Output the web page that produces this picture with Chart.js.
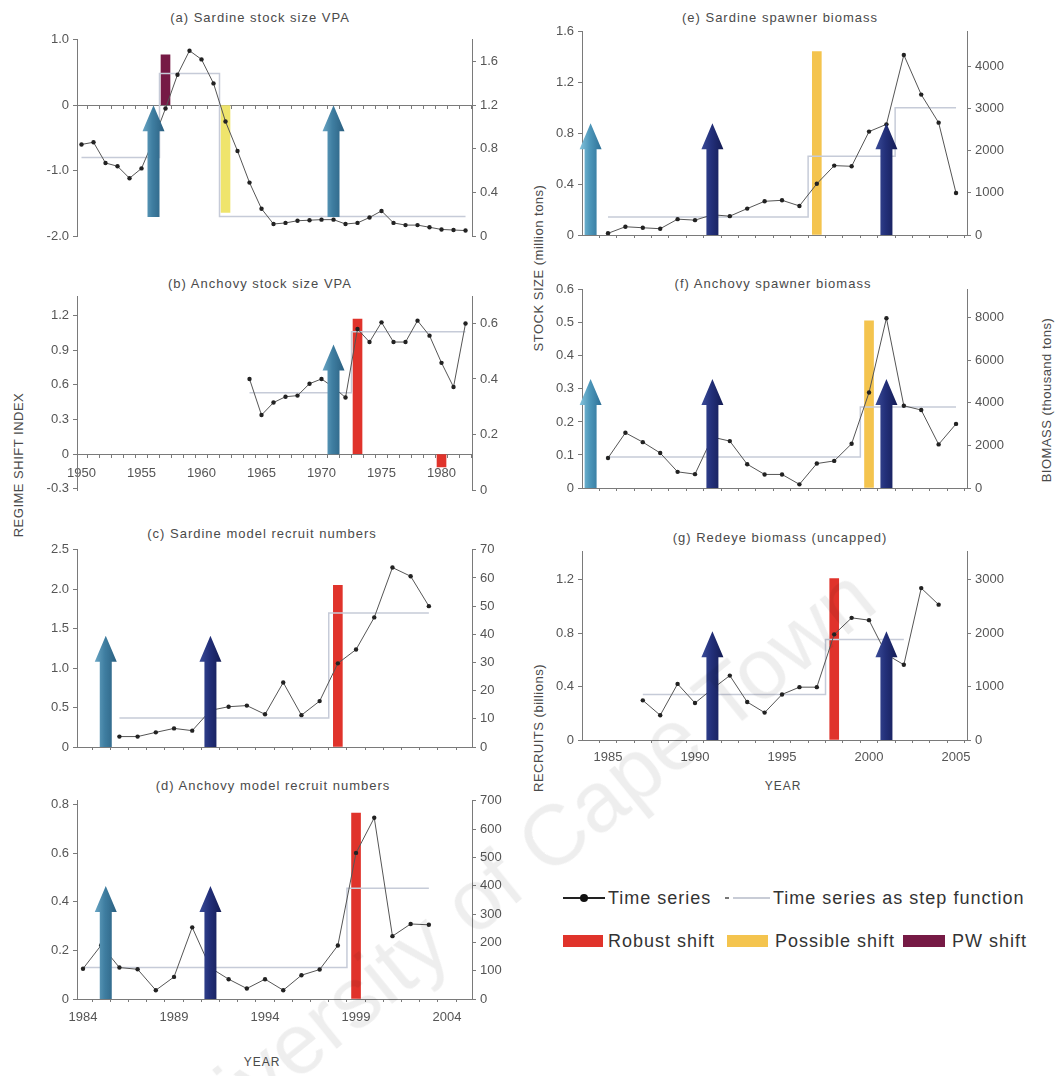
<!DOCTYPE html>
<html>
<head>
<meta charset="utf-8">
<title>Regime shifts in the southern Benguela</title>
<script src="https://cdn.jsdelivr.net/npm/chart.js@4.4.1/dist/chart.umd.min.js"></script>
<style>
html,body{margin:0;padding:0;background:#fff;}
body{position:relative;width:1057px;height:1076px;overflow:hidden;font-family:"Liberation Sans",Arial,Helvetica,sans-serif;}
canvas{position:absolute;}
.ttl{position:absolute;transform:translate(-50%,-50%);font-size:13px;letter-spacing:1px;color:#4a4a4a;white-space:nowrap;}
.vt{position:absolute;transform:translate(-50%,-50%) rotate(-90deg);font-size:13px;letter-spacing:0.5px;color:#4a4a4a;white-space:nowrap;}
.lg{position:absolute;font-size:18px;letter-spacing:1px;color:#333;white-space:nowrap;line-height:20px;}
.sw{position:absolute;}
#wm{position:absolute;right:195px;top:535px;transform-origin:100% 50%;transform:rotate(-39deg);font-size:86px;color:rgba(0,0,0,0.065);white-space:nowrap;pointer-events:none;z-index:10;line-height:100px;}
</style>
</head>
<body>
<div class="ttl" style="left:260px;top:17px">(a) Sardine stock size VPA</div>
<div class="ttl" style="left:260px;top:283px">(b) Anchovy stock size VPA</div>
<div class="ttl" style="left:262px;top:533px">(c) Sardine model recruit numbers</div>
<div class="ttl" style="left:273px;top:785px">(d) Anchovy model recruit numbers</div>
<div class="ttl" style="left:780px;top:17px">(e) Sardine spawner biomass</div>
<div class="ttl" style="left:773px;top:283px">(f) Anchovy spawner biomass</div>
<div class="ttl" style="left:780px;top:537px">(g) Redeye biomass (uncapped)</div>

<div class="vt" style="left:18px;top:465px">REGIME SHIFT INDEX</div>
<div class="vt" style="left:538px;top:268px">STOCK SIZE (million tons)</div>
<div class="vt" style="left:538px;top:728px">RECRUITS (billions)</div>
<div class="vt" style="left:1046px;top:400px">BIOMASS (thousand tons)</div>
<div class="ttl" style="left:262px;top:1062px;font-size:12px">YEAR</div>
<div class="ttl" style="left:783px;top:786px;font-size:12px">YEAR</div>

<!-- legend -->
<div class="sw" style="left:563px;top:897px;width:42px;height:2px;background:#222"></div>
<div class="sw" style="left:580px;top:894px;width:8px;height:8px;border-radius:50%;background:#111"></div>
<div class="lg" style="left:608px;top:888px">Time series</div>
<div class="sw" style="left:725px;top:897px;width:4px;height:2px;background:#777"></div>
<div class="sw" style="left:733px;top:897px;width:37px;height:2px;background:#c8ccd6"></div>
<div class="lg" style="left:773px;top:888px">Time series as step function</div>
<div class="sw" style="left:563px;top:935px;width:40px;height:12px;background:#e0332b"></div>
<div class="lg" style="left:608px;top:931px">Robust shift</div>
<div class="sw" style="left:727px;top:935px;width:41px;height:12px;background:#f4c44e"></div>
<div class="lg" style="left:775px;top:931px">Possible shift</div>
<div class="sw" style="left:903px;top:935px;width:42px;height:12px;background:#761a45"></div>
<div class="lg" style="left:952px;top:931px">PW shift</div>

<div id="wm">University of Cape Town</div>

<script>
// ================= DATA =================
// (a) Sardine stock size VPA  (right axis: stock size; left axis: regime shift index)
const aYears   = [1950,1951,1952,1953,1954,1955,1956,1957,1958,1959,1960,1961,1962,1963,1964,1965,1966,1967,1968,1969,1970,1971,1972,1973,1974,1975,1976,1977,1978,1979,1980,1981,1982];
const aStock   = [0.84,0.86,0.67,0.64,0.53,0.62,0.88,1.17,1.48,1.70,1.62,1.40,1.05,0.78,0.49,0.25,0.11,0.12,0.14,0.145,0.15,0.15,0.11,0.12,0.17,0.23,0.12,0.10,0.10,0.08,0.06,0.055,0.05];
const aStep    = [0.72,0.72,0.72,0.72,0.72,0.72,0.72,1.49,1.49,1.49,1.49,1.49,0.18,0.18,0.18,0.18,0.18,0.18,0.18,0.18,0.18,0.18,0.18,0.18,0.18,0.18,0.18,0.18,0.18,0.18,0.18,0.18,0.18];
const aShiftYears = [1957, 1962];
const aShiftRSI   = [0.77, -1.64];
const aShiftKinds = ['pw', 'possibleLight'];
const aArrowYears = [1956, 1971];
const aArrowKinds = ['steel', 'steel'];
const aArrowRange = [-1.71, 0];
const aLeftTicks  = [-2, -1, 0, 1];
const aLeftLabels = ['-2.0', '-1.0', '0', '1.0'];
const aRightTicks = [0, 0.4, 0.8, 1.2, 1.6];
const aRightLabels= ['0', '0.4', '0.8', '1.2', '1.6'];

// (b) Anchovy stock size VPA
const bYears   = [1964,1965,1966,1967,1968,1969,1970,1971,1972,1973,1974,1975,1976,1977,1978,1979,1980,1981,1982];
const bStock   = [0.40,0.27,0.315,0.336,0.34,0.383,0.40,0.37,0.333,0.58,0.533,0.604,0.533,0.533,0.61,0.556,0.458,0.371,0.60];
const bStep    = [0.35,0.35,0.35,0.35,0.35,0.35,0.35,0.35,0.35,0.57,0.57,0.57,0.57,0.57,0.57,0.57,0.57,0.57,0.57];
const bShiftYears = [1973, 1980];
const bShiftRSI   = [1.17, -0.11];
const bShiftKinds = ['robust', 'robust'];
const bArrowYears = [1971];
const bArrowKinds = ['steel'];
const bArrowRange = [0, 0.95];
const bLeftTicks  = [-0.3, 0, 0.3, 0.6, 0.9, 1.2];
const bLeftLabels = ['-0.3', '0', '0.3', '0.6', '0.9', '1.2'];
const bRightTicks = [0, 0.2, 0.4, 0.6];
const bRightLabels= ['0', '0.2', '0.4', '0.6'];
const bXLabelYears= [1950, 1955, 1960, 1965, 1970, 1975, 1980];
const bXLabels    = ['1950', '1955', '1960', '1965', '1970', '1975', '1980'];

// (c) Sardine model recruit numbers
const cYears   = [1986,1987,1988,1989,1990,1991,1992,1993,1994,1995,1996,1997,1998,1999,2000,2001,2002,2003];
const cRecruits= [3.7,3.7,5.2,6.6,5.8,13,14.3,14.7,11.6,22.9,11.3,16.3,29.7,34.6,46,63.7,60.6,50];
const cStep    = [10.3,10.3,10.3,10.3,10.3,10.3,10.3,10.3,10.3,10.3,10.3,10.3,47.6,47.6,47.6,47.6,47.6,47.6];
const cShiftYears = [1998];
const cShiftRSI   = [2.05];
const cShiftKinds = ['robust'];
const cArrowYears = [1985.25, 1991];
const cArrowKinds = ['steel', 'navy'];
const cArrowRange = [0, 1.41];
const cLeftTicks  = [0, 0.5, 1, 1.5, 2, 2.5];
const cLeftLabels = ['0', '0.5', '1.0', '1.5', '2.0', '2.5'];
const cRightTicks = [0, 10, 20, 30, 40, 50, 60, 70];
const cRightLabels= ['0', '10', '20', '30', '40', '50', '60', '70'];

// (d) Anchovy model recruit numbers
const dYears   = [1984,1985,1986,1987,1988,1989,1990,1991,1992,1993,1994,1995,1996,1997,1998,1999,2000,2001,2002,2003];
const dRecruits= [107,190,111,105,31,78,253,110,70,37,70,31,84,104,189,516,640,222,265,262];
const dStep    = [111,111,111,111,111,111,111,111,111,111,111,111,111,111,111,391,391,391,391,391];
const dShiftYears = [1999];
const dShiftRSI   = [0.765];
const dShiftKinds = ['robust'];
const dArrowYears = [1985.25, 1991];
const dArrowKinds = ['steel', 'navy'];
const dArrowRange = [0, 0.465];
const dLeftTicks  = [0, 0.2, 0.4, 0.6, 0.8];
const dLeftLabels = ['0', '0.2', '0.4', '0.6', '0.8'];
const dRightTicks = [0, 100, 200, 300, 400, 500, 600, 700];
const dRightLabels= ['0', '100', '200', '300', '400', '500', '600', '700'];
const dXLabelYears= [1984, 1989, 1994, 1999, 2004];
const dXLabels    = ['1984', '1989', '1994', '1999', '2004'];

// (e) Sardine spawner biomass
const eYears   = [1985,1986,1987,1988,1989,1990,1991,1992,1993,1994,1995,1996,1997,1998,1999,2000,2001,2002,2003,2004,2005];
const eBiomass = [40,196,172,149,376,353,480,447,627,800,824,690,1216,1647,1631,2455,2627,4275,3333,2667,996];
const eStep    = [430,430,430,430,430,430,430,430,430,430,430,430,1870,1870,1870,1870,1870,3020,3020,3020,3020];
const eShiftYears = [1997];
const eShiftRSI   = [1.445];
const eShiftKinds = ['possible'];
const eArrowYears = [1984, 1991, 2001];
const eArrowKinds = ['teal', 'navy', 'navy'];
const eArrowRange = [0, 0.88];
const eLeftTicks  = [0, 0.4, 0.8, 1.2, 1.6];
const eLeftLabels = ['0', '0.4', '0.8', '1.2', '1.6'];
const eRightTicks = [0, 1000, 2000, 3000, 4000];
const eRightLabels= ['0', '1000', '2000', '3000', '4000'];

// (f) Anchovy spawner biomass
const fYears   = [1985,1986,1987,1988,1989,1990,1991,1992,1993,1994,1995,1996,1997,1998,1999,2000,2001,2002,2003,2004,2005];
const fBiomass = [1409,2591,2153,1642,758,651,2388,2202,1116,636,636,171,1147,1271,2078,4481,7969,3860,3659,2047,3008];
const fStep    = [1457,1457,1457,1457,1457,1457,1457,1457,1457,1457,1457,1457,1457,1457,1457,3800,3800,3800,3800,3800,3800];
const fShiftYears = [2000];
const fShiftRSI   = [0.506];
const fShiftKinds = ['possible'];
const fArrowYears = [1984, 1991, 2001];
const fArrowKinds = ['teal', 'navy', 'navy'];
const fArrowRange = [0, 0.33];
const fLeftTicks  = [0, 0.1, 0.2, 0.3, 0.4, 0.5, 0.6];
const fLeftLabels = ['0', '0.1', '0.2', '0.3', '0.4', '0.5', '0.6'];
const fRightTicks = [0, 2000, 4000, 6000, 8000];
const fRightLabels= ['0', '2000', '4000', '6000', '8000'];

// (g) Redeye biomass (uncapped)
const gYears   = [1987,1988,1989,1990,1991,1992,1993,1994,1995,1996,1997,1998,1999,2000,2001,2002,2003,2004];
const gBiomass = [741,463,1049,691,957,1204,710,512,852,988,988,1975,2284,2241,1600,1407,2840,2531];
const gStepYears = [1987,1988,1989,1990,1991,1992,1993,1994,1995,1996,1997,1998,1999,2000,2001,2002];
const gStep    = [850,850,850,850,850,850,850,850,850,850,850,1880,1880,1880,1880,1880];
const gShiftYears = [1998];
const gShiftRSI   = [1.21];
const gShiftKinds = ['robust'];
const gArrowYears = [1991, 2001];
const gArrowKinds = ['navy', 'navy'];
const gArrowRange = [0, 0.815];
const gLeftTicks  = [0, 0.4, 0.8, 1.2];
const gLeftLabels = ['0', '0.4', '0.8', '1.2'];
const gRightTicks = [0, 1000, 2000, 3000];
const gRightLabels= ['0', '1000', '2000', '3000'];
const gXLabelYears= [1985, 1990, 1995, 2000, 2005];
const gXLabels    = ['1985', '1990', '1995', '2000', '2005'];

// year tick marks
const range = (a, b) => { const r = []; for (let v = a; v <= b; v++) r.push(v); return r; };
const yearsTop = range(1950, 1982);
const yearsBottom = range(1984, 2005);

// ================= STYLES =================
const AXIS = '#7a7a7a';
const TICK = '#555';
const SHIFT_COLORS = { robust: '#e0332b', possible: '#f4c44e', possibleLight: '#efe46c', pw: '#761a45' };
const ARROW_STYLE = {
  steel: { light: '#6aa6c4', mid: '#3f7ea1', dark: '#2a5f80' },
  teal:  { light: '#86c4dc', mid: '#4e98bb', dark: '#2e7096' },
  navy:  { light: '#3b4c98', mid: '#23307a', dark: '#141c54' }
};

// ================= PANELS =================
const panels = [
  { L:77, R:472, T:38, B:236, bottom:12, xAtZero:true, xPad:8, xMin:1949.625, xMax:1982.54, xTicks:yearsTop, xLabelYears:[], xLabels:[],
    leftMin:-2, leftMax:1, leftTicks:aLeftTicks, leftLabels:aLeftLabels, rightMin:0, rightMax:1.8, rightTicks:aRightTicks, rightLabels:aRightLabels,
    years:aYears, values:aStock, stepYears:aYears, step:aStep, shiftYears:aShiftYears, shiftRSI:aShiftRSI, shiftKinds:aShiftKinds,
    arrowYears:aArrowYears, arrowKinds:aArrowKinds, arrowRange:aArrowRange, xDash:[] },
  { L:77, R:472, T:295, B:490, bottom:12, xAtZero:true, xPad:8, xMin:1949.625, xMax:1982.54, xTicks:yearsTop, xLabelYears:bXLabelYears, xLabels:bXLabels,
    leftMin:-0.31, leftMax:1.363, leftTicks:bLeftTicks, leftLabels:bLeftLabels, rightMin:0, rightMax:0.696, rightTicks:bRightTicks, rightLabels:bRightLabels,
    years:bYears, values:bStock, stepYears:bYears, step:bStep, shiftYears:bShiftYears, shiftRSI:bShiftRSI, shiftKinds:bShiftKinds,
    arrowYears:bArrowYears, arrowKinds:bArrowKinds, arrowRange:bArrowRange, xDash:[] },
  { L:77, R:472, T:548, B:747, bottom:12, xAtZero:false, xPad:8, xMin:1983.67, xMax:2005.37, xTicks:yearsBottom, xLabelYears:[], xLabels:[],
    leftMin:0, leftMax:2.5, leftTicks:cLeftTicks, leftLabels:cLeftLabels, rightMin:0, rightMax:70, rightTicks:cRightTicks, rightLabels:cRightLabels,
    years:cYears, values:cRecruits, stepYears:cYears, step:cStep, shiftYears:cShiftYears, shiftRSI:cShiftRSI, shiftKinds:cShiftKinds,
    arrowYears:cArrowYears, arrowKinds:cArrowKinds, arrowRange:cArrowRange, xDash:[] },
  { L:77, R:472, T:799, B:999, bottom:30, xAtZero:false, xPad:8, xMin:1983.67, xMax:2005.37, xTicks:yearsBottom, xLabelYears:dXLabelYears, xLabels:dXLabels,
    leftMin:0, leftMax:0.816, leftTicks:dLeftTicks, leftLabels:dLeftLabels, rightMin:0, rightMax:700, rightTicks:dRightTicks, rightLabels:dRightLabels,
    years:dYears, values:dRecruits, stepYears:dYears, step:dStep, shiftYears:dShiftYears, shiftRSI:dShiftRSI, shiftKinds:dShiftKinds,
    arrowYears:dArrowYears, arrowKinds:dArrowKinds, arrowRange:dArrowRange, xDash:[] },
  { L:582, R:967, T:30, B:235, bottom:12, xAtZero:false, xPad:8, xMin:1983.506, xMax:2005.63, xTicks:yearsBottom, xLabelYears:[], xLabels:[],
    leftMin:0, leftMax:1.6, leftTicks:eLeftTicks, leftLabels:eLeftLabels, rightMin:0, rightMax:4824, rightTicks:eRightTicks, rightLabels:eRightLabels,
    years:eYears, values:eBiomass, stepYears:eYears, step:eStep, shiftYears:eShiftYears, shiftRSI:eShiftRSI, shiftKinds:eShiftKinds,
    arrowYears:eArrowYears, arrowKinds:eArrowKinds, arrowRange:eArrowRange, xDash:[] },
  { L:582, R:967, T:288, B:488, bottom:12, xAtZero:false, xPad:8, xMin:1983.506, xMax:2005.63, xTicks:yearsBottom, xLabelYears:[], xLabels:[],
    leftMin:0, leftMax:0.6, leftTicks:fLeftTicks, leftLabels:fLeftLabels, rightMin:0, rightMax:9302, rightTicks:fRightTicks, rightLabels:fRightLabels,
    years:fYears, values:fBiomass, stepYears:fYears, step:fStep, shiftYears:fShiftYears, shiftRSI:fShiftRSI, shiftKinds:fShiftKinds,
    arrowYears:fArrowYears, arrowKinds:fArrowKinds, arrowRange:fArrowRange, xDash:[2,3] },
  { L:582, R:967, T:550, B:740, bottom:30, xAtZero:false, xPad:7, xMin:1983.506, xMax:2005.63, xTicks:yearsBottom, xLabelYears:gXLabelYears, xLabels:gXLabels,
    leftMin:0, leftMax:1.41, leftTicks:gLeftTicks, leftLabels:gLeftLabels, rightMin:0, rightMax:3519, rightTicks:gRightTicks, rightLabels:gRightLabels,
    years:gYears, values:gBiomass, stepYears:gStepYears, step:gStep, shiftYears:gShiftYears, shiftRSI:gShiftRSI, shiftKinds:gShiftKinds,
    arrowYears:gArrowYears, arrowKinds:gArrowKinds, arrowRange:gArrowRange, xDash:[2,3] }
];

function labelFor(ticks, labels, v) {
  const i = ticks.findIndex(t => Math.abs(t - v) < 1e-9);
  return i >= 0 ? labels[i] : '';
}

function arrowPlugin(p) {
  return {
    id: 'shiftArrows',
    afterDatasetsDraw(chart) {
      const ctx = chart.ctx, xs = chart.scales.x, ys = chart.scales.y;
      const yBase = ys.getPixelForValue(p.arrowRange[0]);
      const yTop = ys.getPixelForValue(p.arrowRange[1]);
      const sw = 6, hw = 11, hl = 26;
      p.arrowYears.forEach((yr, i) => {
        const st = ARROW_STYLE[p.arrowKinds[i]];
        const cx = xs.getPixelForValue(yr);
        const g = ctx.createLinearGradient(cx - hw, 0, cx + hw, 0);
        g.addColorStop(0, st.light); g.addColorStop(0.45, st.mid); g.addColorStop(1, st.dark);
        ctx.save();
        ctx.beginPath();
        ctx.moveTo(cx, yTop);
        ctx.lineTo(cx + hw, yTop + hl);
        ctx.lineTo(cx + sw, yTop + hl);
        ctx.lineTo(cx + sw, yBase);
        ctx.lineTo(cx - sw, yBase);
        ctx.lineTo(cx - sw, yTop + hl);
        ctx.lineTo(cx - hw, yTop + hl);
        ctx.closePath();
        ctx.fillStyle = g;
        ctx.fill();
        ctx.restore();
      });
    }
  };
}

const tickFont = { family: '"Liberation Sans", Arial, sans-serif', size: 13 };

function makeChart(p) {
  const W = p.R - p.L + 120, H = p.B - p.T + 10 + p.bottom;
  const c = document.createElement('canvas');
  c.width = W; c.height = H;
  c.style.left = (p.L - 60) + 'px'; c.style.top = (p.T - 10) + 'px';
  c.style.width = W + 'px'; c.style.height = H + 'px';
  document.body.appendChild(c);

  const datasets = [
    { type: 'bar', label: 'Regime shift', yAxisID: 'y', order: 3, grouped: false, barThickness: 9, borderWidth: 0,
      data: p.shiftYears.map((x, i) => ({ x: x, y: p.shiftRSI[i] })),
      backgroundColor: p.shiftKinds.map(k => SHIFT_COLORS[k]) },
    { type: 'line', label: 'Time series as step function', yAxisID: 'y1', order: 2, stepped: 'middle',
      data: p.stepYears.map((x, i) => ({ x: x, y: p.step[i] })),
      borderColor: '#c6cbd8', borderWidth: 1.5, pointRadius: 0, fill: false },
    { type: 'line', label: 'Time series', yAxisID: 'y1', order: 1, tension: 0,
      data: p.years.map((x, i) => ({ x: x, y: p.values[i] })),
      borderColor: '#555', borderWidth: 1, pointRadius: 2.2, pointBackgroundColor: '#222', pointBorderColor: '#222', pointBorderWidth: 0, fill: false }
  ];

  const yAxis = (pos, min, max, ticks, labels) => ({
    type: 'linear', position: pos, min: min, max: max,
    border: { display: true, color: AXIS },
    grid: { display: true, drawOnChartArea: false, drawTicks: true, tickLength: 4, color: AXIS },
    ticks: { font: tickFont, color: TICK, padding: 4, autoSkip: false, callback: v => labelFor(ticks, labels, v) },
    afterBuildTicks: s => { s.ticks = ticks.map(v => ({ value: v })); },
    afterFit: s => { s.width = 60; }
  });

  new Chart(c, {
    type: 'line',
    data: { datasets: datasets },
    options: {
      responsive: false, animation: false, devicePixelRatio: 1,
      layout: { padding: { top: 10, bottom: p.xAtZero ? p.bottom : 0, left: 0, right: 0 } },
      plugins: { legend: { display: false }, tooltip: { enabled: false }, title: { display: false } },
      scales: {
        x: {
          type: 'linear', min: p.xMin, max: p.xMax, offset: false,
          position: p.xAtZero ? { y: 0 } : 'bottom',
          border: { display: true, color: AXIS, dash: p.xDash },
          grid: { display: true, drawOnChartArea: false, drawTicks: true, tickLength: 3, color: AXIS },
          ticks: { autoSkip: false, maxRotation: 0, minRotation: 0, font: tickFont, color: TICK, padding: p.xPad,
                   callback: v => labelFor(p.xLabelYears, p.xLabels, v) },
          afterBuildTicks: s => { s.ticks = p.xTicks.filter(v => v >= p.xMin && v <= p.xMax).map(v => ({ value: v })); },
          afterFit: s => { if (!p.xAtZero) s.height = p.bottom; }
        },
        y: yAxis('left', p.leftMin, p.leftMax, p.leftTicks, p.leftLabels),
        y1: yAxis('right', p.rightMin, p.rightMax, p.rightTicks, p.rightLabels)
      }
    },
    plugins: [arrowPlugin(p)]
  });
}

panels.forEach(makeChart);
</script>
</body>
</html>
